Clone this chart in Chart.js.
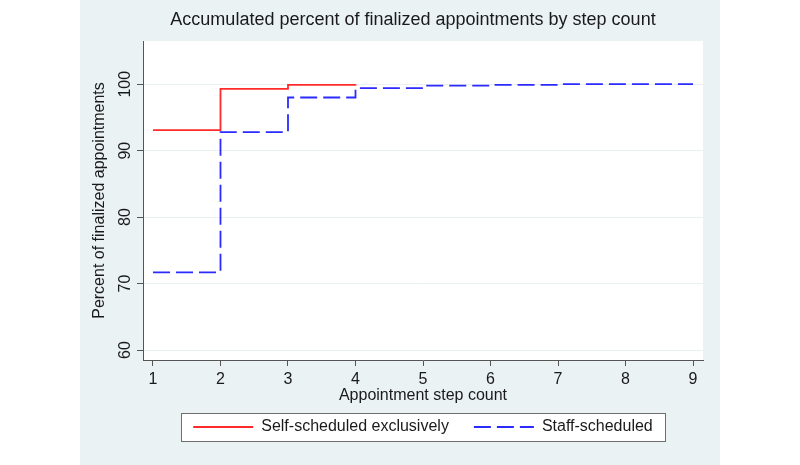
<!DOCTYPE html>
<html>
<head>
<meta charset="utf-8">
<script src="https://cdn.jsdelivr.net/npm/chart.js@4/dist/chart.umd.min.js"></script>
<style>
  html, body { margin: 0; padding: 0; background: #ffffff; }
  canvas { display: block; }
</style>
</head>
<body>
<canvas id="stepChart" width="800" height="465"></canvas>
<script>
// data
const steps = [1, 2, 3, 4, 5, 6, 7, 8, 9];
const selfSteps = [1, 2, 3, 4];
const selfPct = [93.1, 99.3, 99.9, 100];
const staffPct = [71.7, 92.8, 98.0, 99.4, 99.8, 99.9, 100, 100, 100];
const seriesLabels = ['Self-scheduled exclusively', 'Staff-scheduled'];
const xTicks = [1, 2, 3, 4, 5, 6, 7, 8, 9];
const yTicks = [60, 70, 80, 90, 100];
const chartTitle = 'Accumulated percent of finalized appointments by step count';

const FONT = "'Liberation Sans', Arial, sans-serif";
const BG = '#eaf2f3';

// background, white plot region, legend frame, title
const stataLook = {
    id: 'stataLook',
    beforeDraw(chart) {
        const ctx = chart.ctx;
        const a = chart.chartArea;
        ctx.save();
        ctx.fillStyle = '#ffffff';
        ctx.fillRect(0, 0, chart.width, chart.height);
        ctx.fillStyle = BG;
        ctx.fillRect(80, 0, 640, chart.height);
        ctx.fillStyle = '#ffffff';
        ctx.fillRect(a.left, a.top, a.right - a.left, a.bottom - a.top);
        // legend frame
        ctx.fillRect(181, 413, 485, 29);
        ctx.strokeStyle = '#6e6e6e';
        ctx.lineWidth = 1;
        ctx.strokeRect(181.5, 413.5, 484, 28);
        ctx.restore();
    },
    afterDraw(chart) {
        const ctx = chart.ctx;
        ctx.save();
        ctx.fillStyle = '#1a1a1a';
        ctx.font = '18px ' + FONT;
        ctx.textAlign = 'center';
        ctx.textBaseline = 'alphabetic';
        ctx.fillText(chartTitle, 413, 25);
        ctx.restore();
    }
};

const ctx = document.getElementById('stepChart').getContext('2d');
new Chart(ctx, {
    type: 'line',
    data: {
        datasets: [{
            label: seriesLabels[0],
            data: selfSteps.map((s, i) => ({ x: s, y: selfPct[i] })),
            borderColor: '#ff2b2b',
            backgroundColor: '#ff2b2b',
            borderWidth: 1.8,
            stepped: 'before',
            pointRadius: 0,
            pointStyle: 'line',
            fill: false
        }, {
            label: seriesLabels[1],
            data: steps.map((s, i) => ({ x: s, y: staffPct[i] })),
            borderColor: '#2b2bff',
            backgroundColor: '#2b2bff',
            borderWidth: 1.8,
            borderDash: [17, 6],
            stepped: 'before',
            pointRadius: 0,
            pointStyle: 'line',
            fill: false
        }]
    },
    options: {
        responsive: false,
        devicePixelRatio: 1,
        animation: false,
        layout: { padding: { left: 80, right: 97, top: 41, bottom: 20 } },
        plugins: {
            title: { display: false },
            tooltip: { enabled: false },
            legend: {
                position: 'bottom',
                fullSize: false,
                labels: {
                    usePointStyle: true,
                    pointStyle: 'line',
                    pointStyleWidth: 60,
                    padding: 25,
                    color: '#1a1a1a',
                    font: { family: FONT, size: 16 },
                    // point style drops the dash, so take it from the dataset
                    generateLabels: chart => {
                        const items = Chart.defaults.plugins.legend.labels.generateLabels(chart);
                        items.forEach(item => {
                            item.lineDash = chart.data.datasets[item.datasetIndex].borderDash || [];
                        });
                        return items;
                    }
                }
            }
        },
        scales: {
            x: {
                type: 'linear',
                min: 0.852,
                max: 9.148,
                afterBuildTicks: scale => { scale.ticks = xTicks.map(v => ({ value: v })); },
                afterFit: scale => { scale.height = 34; },
                border: { display: true, color: '#555555', width: 1 },
                grid: { drawOnChartArea: false, drawTicks: true, tickLength: 6, tickColor: '#555555' },
                ticks: {
                    padding: 4,
                    maxRotation: 0,
                    color: '#1a1a1a',
                    font: { family: FONT, size: 16 }
                },
                title: {
                    display: true,
                    text: 'Appointment step count',
                    color: '#1a1a1a',
                    font: { family: FONT, size: 16 },
                    padding: { top: 0, bottom: -11.6 }
                }
            },
            y: {
                type: 'linear',
                min: 58.5,
                max: 106.5,
                afterBuildTicks: scale => { scale.ticks = yTicks.map(v => ({ value: v })); },
                afterFit: scale => { scale.width = 63; },
                border: { display: true, color: '#555555', width: 1 },
                grid: { color: '#e8f0f1', lineWidth: 1, drawTicks: true, tickLength: 6, tickColor: '#555555' },
                ticks: {
                    minRotation: 90,
                    maxRotation: 90,
                    crossAlign: 'center',
                    padding: -2,
                    color: '#1a1a1a',
                    font: { family: FONT, size: 16 }
                },
                title: {
                    display: true,
                    text: 'Percent of finalized appointments',
                    color: '#1a1a1a',
                    font: { family: FONT, size: 16 },
                    padding: { top: 10, bottom: 0 }
                }
            }
        }
    },
    plugins: [stataLook]
});
</script>
</body>
</html>
